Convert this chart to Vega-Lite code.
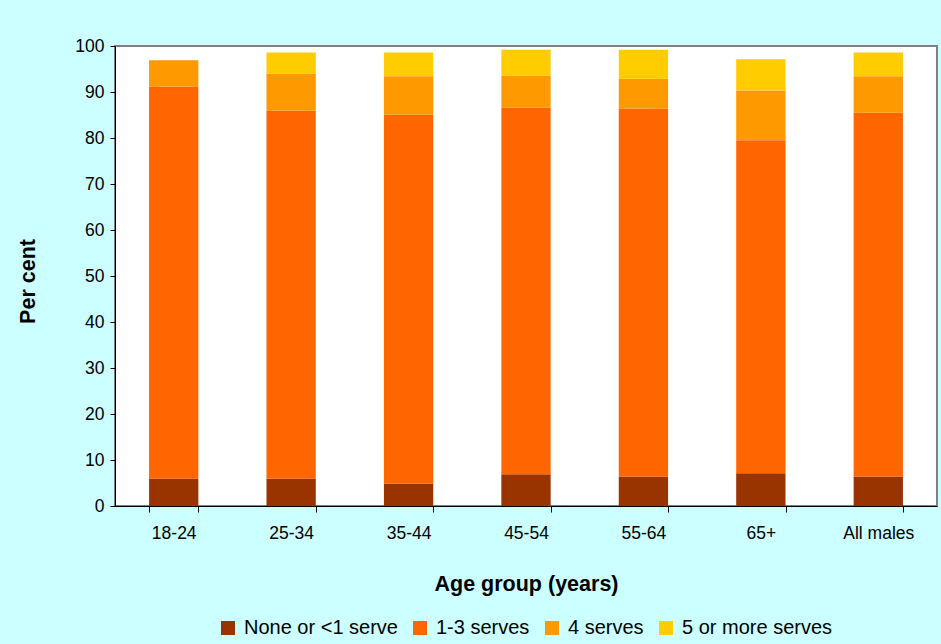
{
  "$schema": "https://vega.github.io/schema/vega-lite/v6.json",
  "autosize": "none",
  "width": 822,
  "height": 460,
  "padding": {"left": 115, "top": 46, "right": 4, "bottom": 138},
  "background": "#CCFFFF",
  "config": {
    "font": "Liberation Sans",
    "view": {"fill": "white", "stroke": "#808080", "strokeWidth": 2}
  },
  "data": {
    "values": [
      {"age": "18-24", "cat": "None or <1 serve", "k": 1, "pct": 6.0},
      {"age": "18-24", "cat": "1-3 serves", "k": 2, "pct": 85.2},
      {"age": "18-24", "cat": "4 serves", "k": 3, "pct": 5.7},
      {"age": "18-24", "cat": "5 or more serves", "k": 4, "pct": 0},
      {"age": "25-34", "cat": "None or <1 serve", "k": 1, "pct": 6.0},
      {"age": "25-34", "cat": "1-3 serves", "k": 2, "pct": 80.0},
      {"age": "25-34", "cat": "4 serves", "k": 3, "pct": 8.0},
      {"age": "25-34", "cat": "5 or more serves", "k": 4, "pct": 4.6},
      {"age": "35-44", "cat": "None or <1 serve", "k": 1, "pct": 4.9},
      {"age": "35-44", "cat": "1-3 serves", "k": 2, "pct": 80.2},
      {"age": "35-44", "cat": "4 serves", "k": 3, "pct": 8.3},
      {"age": "35-44", "cat": "5 or more serves", "k": 4, "pct": 5.2},
      {"age": "45-54", "cat": "None or <1 serve", "k": 1, "pct": 6.9},
      {"age": "45-54", "cat": "1-3 serves", "k": 2, "pct": 79.7},
      {"age": "45-54", "cat": "4 serves", "k": 3, "pct": 7.0},
      {"age": "45-54", "cat": "5 or more serves", "k": 4, "pct": 5.6},
      {"age": "55-64", "cat": "None or <1 serve", "k": 1, "pct": 6.4},
      {"age": "55-64", "cat": "1-3 serves", "k": 2, "pct": 80.0},
      {"age": "55-64", "cat": "4 serves", "k": 3, "pct": 6.5},
      {"age": "55-64", "cat": "5 or more serves", "k": 4, "pct": 6.3},
      {"age": "65+", "cat": "None or <1 serve", "k": 1, "pct": 7.1},
      {"age": "65+", "cat": "1-3 serves", "k": 2, "pct": 72.4},
      {"age": "65+", "cat": "4 serves", "k": 3, "pct": 10.8},
      {"age": "65+", "cat": "5 or more serves", "k": 4, "pct": 6.8},
      {"age": "All males", "cat": "None or <1 serve", "k": 1, "pct": 6.4},
      {"age": "All males", "cat": "1-3 serves", "k": 2, "pct": 79.1},
      {"age": "All males", "cat": "4 serves", "k": 3, "pct": 7.9},
      {"age": "All males", "cat": "5 or more serves", "k": 4, "pct": 5.2}
    ]
  },
  "mark": {"type": "bar"},
  "encoding": {
    "x": {
      "field": "age",
      "type": "nominal",
      "sort": null,
      "scale": {"paddingInner": 0.58, "paddingOuter": 0.29},
      "axis": {
        "title": "Age group (years)",
        "labelAngle": 0,
        "labelFontSize": 17.5,
        "labelColor": "#000",
        "labelPadding": 12,
        "tickBand": "extent",
        "tickSize": 6,
        "tickColor": "#000",
        "domainColor": "#000",
        "titleFontSize": 21.5,
        "titleFontWeight": "bold",
        "titleColor": "#000",
        "titleY": 67,
        "titleBaseline": "top"
      }
    },
    "y": {
      "field": "pct",
      "type": "quantitative",
      "stack": "zero",
      "scale": {"domain": [0, 100], "nice": false},
      "axis": {
        "title": "Per cent",
        "values": [0, 10, 20, 30, 40, 50, 60, 70, 80, 90, 100],
        "grid": false,
        "labelFontSize": 17.5,
        "labelColor": "#000",
        "labelPadding": 6,
        "tickSize": 5,
        "tickColor": "#000",
        "domainColor": "#000",
        "titleFontSize": 21.5,
        "titleFontWeight": "bold",
        "titleColor": "#000",
        "titleX": -87,
        "titleY": 235,
        "titleAngle": -90,
        "titleAlign": "center",
        "titleBaseline": "middle"
      }
    },
    "color": {
      "field": "cat",
      "type": "nominal",
      "scale": {
        "domain": ["None or <1 serve", "1-3 serves", "4 serves", "5 or more serves"],
        "range": ["#993300", "#FF6600", "#FF9900", "#FFCC00"]
      },
      "legend": {
        "title": null,
        "orient": "none",
        "legendX": 103,
        "legendY": 572,
        "direction": "horizontal",
        "padding": 0,
        "symbolType": "square",
        "symbolSize": 196,
        "symbolStrokeWidth": 0,
        "symbolOpacity": 1,
        "labelFontSize": 20,
        "labelColor": "#000",
        "labelOffset": 6,
        "labelLimit": 400,
        "columnPadding": 12
      }
    },
    "order": {"field": "k", "type": "quantitative"}
  }
}
